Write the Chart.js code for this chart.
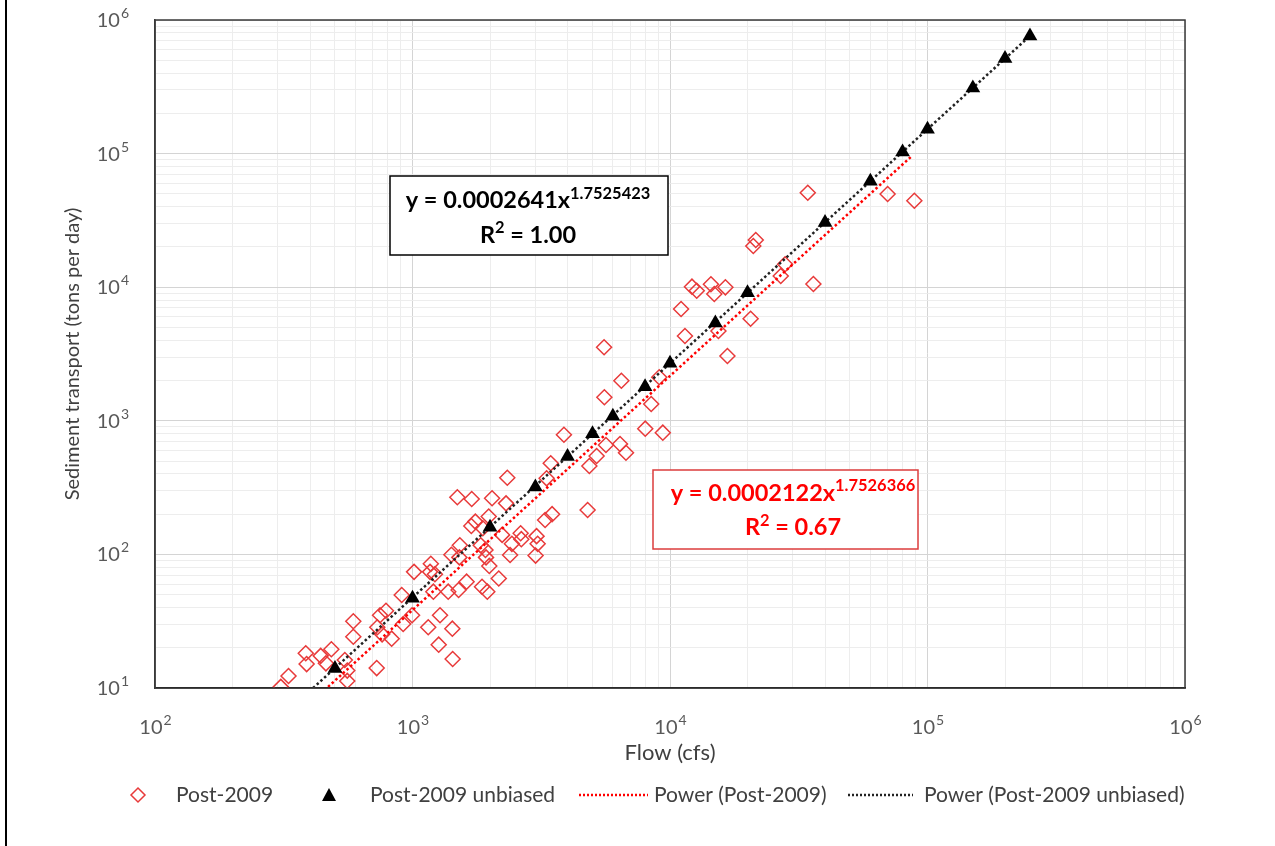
<!DOCTYPE html>
<html>
<head>
<meta charset="utf-8">
<script src="https://cdn.jsdelivr.net/npm/chart.js@4.4.1/dist/chart.umd.min.js"></script>
<style>
  html, body { margin: 0; padding: 0; background: #fff; }
  #wrap { position: relative; width: 1275px; height: 846px; }
  #wrap:before { content: ''; position: absolute; left: 5px; top: 0; width: 2px; height: 846px; background: #000; }
</style>
</head>
<body>
<div id="wrap"><canvas id="chart" width="1275" height="846"></canvas></div>
<script>
// flow (cfs) / sediment (tons per day)
const post2009Flow = [308, 330, 388, 385, 440, 484, 461, 546, 558, 558, 726, 589, 589, 748, 789, 730, 830, 762, 920, 908,
  996, 1014, 1178, 1205, 1151, 1279, 1264, 1432, 1428, 1376, 1510, 1416, 1521,
  3873, 3442, 3318, 4862, 5188, 4787, 2334, 1493, 1698, 2037, 2308, 3273, 3484, 1754, 1977, 1692, 1875, 2229, 2630,
  2646, 2432, 3033, 3062, 2393, 3006, 1987, 1841, 1920, 1930, 1527, 1170, 1222, 2163, 1622, 1862, 1952,
  11430, 5546, 6473, 5560, 9081, 8453, 8014, 9377, 5640, 6395, 6746,
  34280, 70000, 88900, 21530, 21060, 27990, 26920, 36050, 12170, 12700, 14420, 14860, 16410, 11040, 20560, 15420, 16710];
const post2009Sed = [10.2, 12.3, 15.1, 18.2, 17.4, 19.5, 15.3, 16.2, 13.5, 11.3, 14.1, 24.2, 31.6, 35, 37.9, 28.5, 23.4, 25.2, 30.1, 49.7,
  35, 74, 85, 52.6, 28.5, 35, 21.1, 16.5, 27.8, 52.6, 54.2, 99.5, 95,
  787, 481, 371, 459, 545, 215, 375, 268, 260, 263, 241, 181, 200, 176, 192, 163, 157, 140, 144,
  130, 120, 137, 120, 99, 98, 82, 117, 108, 95, 117, 74, 71, 66, 62.5, 57.3, 52.6,
  4312, 3550, 1995, 1500, 2117, 1336, 873, 815, 659, 670, 577,
  50970, 49850, 44400, 22550, 20340, 14840, 12130, 10570, 10090, 9410, 10510, 8890, 9980, 6870, 5810, 4700, 3055];

const unbiasedFlow = [500, 1000, 2000, 3000, 4000, 5000, 6000, 8000, 10000, 15000, 20000, 40000, 60000, 80000, 100000, 150000, 200000, 250000];
const unbiasedSed = [14, 47, 160, 320, 540, 800, 1080, 1800, 2700, 5400, 9100, 30500, 62000, 103000, 152000, 310000, 515000, 760000];

// trend line end points
const powerPostFlow = [470, 87000];
const powerPostSed = [10.2, 96000];
const powerUnbFlow = [411, 250000];
const powerUnbSed = [10, 760000];

// decade tick labels: "10" + exponent
const xTickValues = [1e2, 1e3, 1e4, 1e5, 1e6];
const xTickExps = ['2', '3', '4', '5', '6'];
const yTickValues = [1e1, 1e2, 1e3, 1e4, 1e5, 1e6];
const yTickExps = ['1', '2', '3', '4', '5', '6'];

const seriesLabels = ['Post-2009', 'Post-2009 unbiased', 'Power (Post-2009)', 'Power (Post-2009 unbiased)'];

const FONT = 'Lato, "Open Sans", sans-serif';
const RED = '#ff0000';

function pts(xs, ys) { return xs.map((x, i) => ({ x: x, y: ys[i] })); }

function logTicks(from, to) {
  const out = [];
  for (let e = from; e < to; e++) {
    for (let m = 1; m < 10; m++) out.push({ value: m * Math.pow(10, e) });
  }
  out.push({ value: Math.pow(10, to) });
  return out;
}
function isDecade(v) {
  const l = Math.log10(v);
  return Math.abs(l - Math.round(l)) < 1e-9;
}
function gridColor(ctx) {
  if (!ctx.tick) return '#e6e6e6';
  return isDecade(ctx.tick.value) ? '#d4d4d4' : '#ededed';
}

// "10" with exponent, align: 'center' or 'right'
function drawPow(ctx, exp, x, y, align) {
  ctx.fillStyle = '#595959';
  ctx.textAlign = 'left';
  ctx.textBaseline = 'alphabetic';
  ctx.font = '20px ' + FONT;
  const wb = ctx.measureText('10').width;
  ctx.font = '14px ' + FONT;
  const we = ctx.measureText(exp).width;
  const x0 = align === 'right' ? x - wb - we : x - (wb + we) / 2;
  const base = y + 7;
  ctx.font = '20px ' + FONT;
  ctx.fillText('10', x0, base);
  ctx.font = '14px ' + FONT;
  ctx.fillText(exp, x0 + wb + 1, base - 9);
}

// bold text with a superscript part
function drawSup(ctx, parts, cx, cy, size, color) {
  ctx.fillStyle = color;
  ctx.textBaseline = 'alphabetic';
  ctx.textAlign = 'left';
  const ss = size * 0.7;
  let w = 0;
  parts.forEach(p => {
    ctx.font = 'bold ' + (p.sup ? ss : size) + 'px ' + FONT;
    w += ctx.measureText(p.t).width;
  });
  let x = cx - w / 2;
  const base = cy + size * 0.36;
  parts.forEach(p => {
    ctx.font = 'bold ' + (p.sup ? ss : size) + 'px ' + FONT;
    ctx.fillText(p.t, x, p.sup ? base - size * 0.42 : base);
    x += ctx.measureText(p.t).width;
  });
}

const extras = {
  id: 'extras',
  afterDraw(chart) {
    const ctx = chart.ctx;
    const a = chart.chartArea;
    const xs = chart.scales.x, ys = chart.scales.y;
    ctx.save();
    // plot frame
    ctx.strokeStyle = '#3a3a3a';
    ctx.lineWidth = 1.5;
    ctx.strokeRect(a.left, a.top, a.right - a.left, a.bottom - a.top);

    // tick labels
    xTickValues.forEach((v, i) => drawPow(ctx, xTickExps[i], xs.getPixelForValue(v), a.bottom + 39, 'center'));
    yTickValues.forEach((v, i) => drawPow(ctx, yTickExps[i], a.left - 27, ys.getPixelForValue(v), 'right'));

    // equation boxes
    ctx.lineWidth = 1.5;
    ctx.strokeStyle = '#000';
    ctx.fillStyle = '#fff';
    ctx.fillRect(a.left + 235, a.top + 156, 278, 79);
    ctx.strokeRect(a.left + 235, a.top + 156, 278, 79);
    drawSup(ctx, [{ t: 'y = 0.0002641x' }, { t: '1.7525423', sup: true }], a.left + 373, a.top + 180, 23.5, '#000');
    drawSup(ctx, [{ t: 'R' }, { t: '2', sup: true }, { t: ' = 1.00' }], a.left + 373, a.top + 214.5, 23.5, '#000');

    ctx.strokeStyle = '#dc3c3c';
    ctx.fillStyle = '#fff';
    ctx.fillRect(a.left + 498, a.top + 450, 265, 79);
    ctx.strokeRect(a.left + 498, a.top + 450, 265, 79);
    drawSup(ctx, [{ t: 'y = 0.0002122x' }, { t: '1.7526366', sup: true }], a.left + 638, a.top + 472.5, 23.5, RED);
    drawSup(ctx, [{ t: 'R' }, { t: '2', sup: true }, { t: ' = 0.67' }], a.left + 638, a.top + 507, 23.5, RED);

    // legend
    const ly = 795;
    ctx.font = '21px ' + FONT;
    ctx.fillStyle = '#404040';
    ctx.textAlign = 'left';
    ctx.textBaseline = 'middle';
    ctx.fillText(seriesLabels[0], 176, ly);
    ctx.fillText(seriesLabels[1], 370, ly);
    ctx.fillText(seriesLabels[2], 654, ly);
    ctx.fillText(seriesLabels[3], 924, ly);

    ctx.strokeStyle = '#e83a3a';
    ctx.lineWidth = 1.5;
    ctx.beginPath();
    ctx.moveTo(138, ly - 7); ctx.lineTo(145, ly); ctx.lineTo(138, ly + 7); ctx.lineTo(131, ly); ctx.closePath();
    ctx.stroke();

    ctx.fillStyle = '#000';
    ctx.beginPath();
    ctx.moveTo(329, ly - 7); ctx.lineTo(336, ly + 6); ctx.lineTo(322, ly + 6); ctx.closePath();
    ctx.fill();

    ctx.lineWidth = 2.5;
    ctx.setLineDash([2, 2]);
    ctx.strokeStyle = RED;
    ctx.beginPath(); ctx.moveTo(579, ly); ctx.lineTo(648, ly); ctx.stroke();
    ctx.strokeStyle = '#222';
    ctx.beginPath(); ctx.moveTo(848, ly); ctx.lineTo(913, ly); ctx.stroke();
    ctx.restore();
  }
};

new Chart(document.getElementById('chart'), {
  type: 'scatter',
  data: {
    datasets: [
      {
        label: seriesLabels[1],
        data: pts(unbiasedFlow, unbiasedSed),
        pointStyle: 'triangle',
        pointRadius: 8.5,
        backgroundColor: '#000',
        borderColor: '#000',
        borderWidth: 0,
        order: 0
      },
      {
        label: seriesLabels[3],
        data: pts(powerUnbFlow, powerUnbSed),
        showLine: true,
        pointRadius: 0,
        borderColor: '#222',
        borderWidth: 2.5,
        borderDash: [2.5, 2.5],
        order: 1
      },
      {
        label: seriesLabels[2],
        data: pts(powerPostFlow, powerPostSed),
        showLine: true,
        pointRadius: 0,
        borderColor: RED,
        borderWidth: 2.5,
        borderDash: [2.5, 2.5],
        order: 1
      },
      {
        label: seriesLabels[0],
        data: pts(post2009Flow, post2009Sed),
        pointStyle: 'rectRot',
        pointRadius: 7.5,
        backgroundColor: 'rgba(255,255,255,0)',
        borderColor: '#e83a3a',
        borderWidth: 1.5,
        order: 2
      }
    ]
  },
  options: {
    responsive: false,
    animation: false,
    layout: { padding: { left: 0, right: 90, top: 20, bottom: 78 } },
    plugins: { legend: { display: false }, tooltip: { enabled: false } },
    scales: {
      x: {
        type: 'logarithmic',
        min: 100, max: 1e6,
        afterBuildTicks: s => { s.ticks = logTicks(2, 6); },
        afterFit: s => { s.height = 80; },
        grid: { color: gridColor, lineWidth: 1, drawTicks: false },
        border: { display: true, color: '#000', width: 1.5 },
        ticks: { display: false },
        title: {
          display: true, text: 'Flow (cfs)', color: '#404040',
          font: { family: FONT, size: 22 }, padding: { top: 0, bottom: 2 }
        }
      },
      y: {
        type: 'logarithmic',
        min: 10, max: 1e6,
        afterBuildTicks: s => { s.ticks = logTicks(1, 6); },
        afterFit: s => { s.width = 155; },
        grid: { color: gridColor, lineWidth: 1, drawTicks: false },
        border: { display: true, color: '#3a3a3a', width: 1.5 },
        ticks: { display: false },
        title: {
          display: true, text: 'Sediment transport (tons per day)', color: '#404040',
          font: { family: FONT, size: 20 }, padding: { top: 61, bottom: 0 }
        }
      }
    }
  },
  plugins: [extras]
});
</script>
</body>
</html>
